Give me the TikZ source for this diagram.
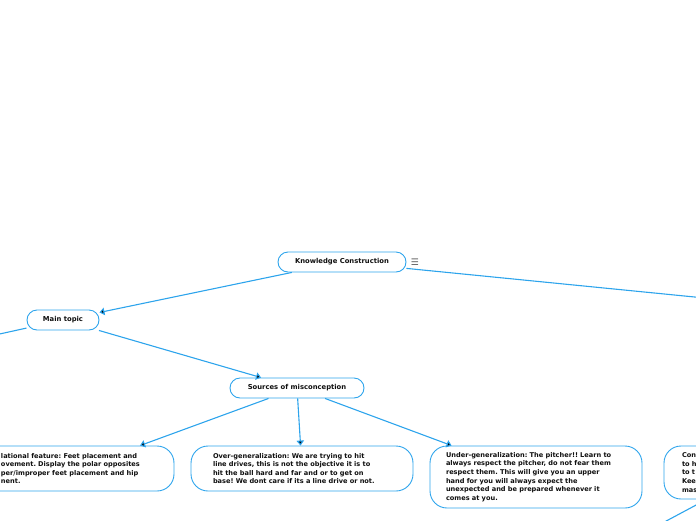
\documentclass[tikz,border=0pt]{standalone}
\usepackage{fontspec}
\setmainfont{DejaVu Sans}
\usetikzlibrary{positioning, arrows.meta}
\definecolor{mapblue}{RGB}{45,164,236}
\definecolor{maptext}{RGB}{15,15,15}

\begin{document}
\frenchspacing
\begin{tikzpicture}[x=1pt, y=1pt, on grid,
    topic/.style={draw=mapblue, line width=0.9pt, rounded corners=10pt, minimum height=20pt,
        inner xsep=2pt, text=maptext, font=\fontsize{6.8}{8.6}\selectfont\bfseries},
    leaf/.style={draw=mapblue, line width=0.9pt, rounded corners=17pt, align=left,
        text=maptext, font=\fontsize{6.6}{8.6}\selectfont\bfseries},
    link/.style={draw=mapblue, line width=1.1pt},
    tip/.style={-{Triangle[length=5pt, width=7.5pt]}}]
        \useasboundingbox (0,0) rectangle (696,-520);
        \clip (0,0) rectangle (696,-520);

        \node[topic, minimum width=128pt] (kc) at (342,-262) {Knowledge Construction};
        \node[text=black!65, font=\fontsize{9}{9}\selectfont] (menu) [right=73pt of kc] {☰};
        \node[topic, minimum width=72pt] (mt) [below left=58pt and 279pt of kc] {Main topic};
        \node[topic, minimum width=134pt] (src) [below right=68pt and 234pt of mt] {Sources of misconception};

        \node[leaf, text width=153pt, inner xsep=20pt, minimum height=45pt] (relf)
            [below left=80.5pt and 219.5pt of src]
            {lational feature: Feet placement and\\ovement. Display the polar opposites\\per/improper feet placement and hip\\nent.};
        \node[leaf, text width=178pt, inner xsep=22pt, minimum height=45pt] (overg)
            [below right=80.5pt and 5pt of src]
            {Over-generalization: We are trying to hit\\line drives, this is not the objective it is to\\hit the ball hard and far and or to get on\\base! We dont care if its a line drive or not.};
        \node[leaf, text width=180pt, inner xsep=16pt, minimum height=62pt] (underg)
            [below right=89pt and 239pt of src]
            {Under-generalization: The pitcher!! Learn to\\always respect the pitcher, do not fear them\\respect them. This will give you an upper\\hand for you will always expect the\\unexpected and be prepared whenever it\\comes at you.};
        \node[leaf, text width=155pt, inner xsep=18pt, minimum height=53pt] (cont)
            [below right=210.5pt and 417.5pt of kc]
            {Con\\to h\\to t\\Kee\\mas};

        % branches leaving the visible part
        \coordinate (kcout) at (896,-317);
        \coordinate (mtout) at (-100,-356);
        \coordinate (contout) at (640,-535);

        \path[link]
        (kc) edge (kcout)
        (mt) edge (mtout)
        ([xshift=43pt]cont.south west) edge (contout);

        \path[link, tip]
        (kc) edge (mt)
        (mt) edge (src)
        (src) edge (relf)
        (src) edge (overg)
        (src) edge (underg);
\end{tikzpicture}
\end{document}
